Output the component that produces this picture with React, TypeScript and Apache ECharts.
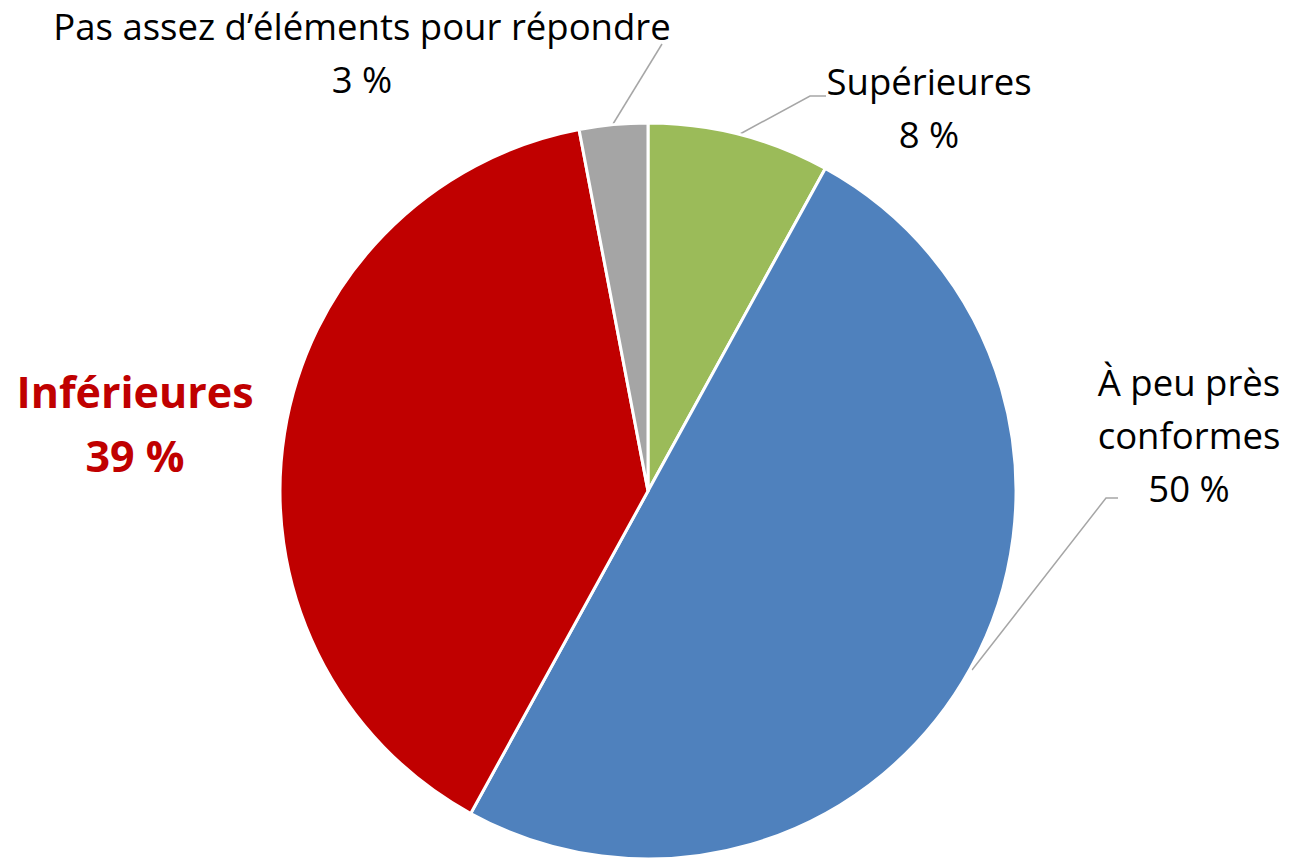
import React, { useEffect, useRef } from "react";
import * as echarts from "echarts";

const categories = ["Supérieures", "À peu près\nconformes", "Inférieures", "Pas assez d’éléments pour répondre"];
const values = [8, 50, 39, 3];
const colors = ["#9BBB59", "#4F81BD", "#C00000", "#A5A5A5"];

const FONT = "'Open Sans', 'Noto Sans', sans-serif";

export default function App() {
  const ref = useRef<HTMLDivElement>(null);
  useEffect(() => {
    const chart = echarts.init(ref.current!, null, { renderer: "svg" });
    const layouts: any[] = [
      { x: 929, y: 54, align: "center", verticalAlign: "top", labelLinePoints: [[740, 134], [810, 96], [826, 96]] },
      { x: 1189, y: 355, align: "center", verticalAlign: "top", labelLinePoints: [[972, 670], [1106, 498], [1118, 498]] },
      { x: 135, y: 359, align: "center", verticalAlign: "top" },
      { x: 362, y: -1, align: "center", verticalAlign: "top", labelLinePoints: [[613, 124], [662, 44], [662, 44]] },
    ];
    chart.setOption({
      animation: false,
      series: [
        {
          type: "pie",
          center: [648, 491],
          radius: 368,
          startAngle: 90,
          clockwise: true,
          avoidLabelOverlap: false,
          itemStyle: { borderColor: "#ffffff", borderWidth: 3 },
          label: {
            show: true,
            formatter: "{b}\n{c} %",
            fontFamily: FONT,
            fontSize: 36.5,
            lineHeight: 53,
            color: "#000000",
            align: "center",
          },
          labelLine: { show: true, lineStyle: { color: "#A6A6A6", width: 1.5 } },
          labelLayout: (p: any) => layouts[p.dataIndex],
          data: categories.map((c, i) => ({
            name: c,
            value: values[i],
            itemStyle: { color: colors[i] },
            ...(i === 2
              ? {
                  label: { fontWeight: "bold", color: "#C00000", fontSize: 43, lineHeight: 64 },
                  labelLine: { show: false },
                }
              : {}),
          })),
        },
      ],
    });
    return () => chart.dispose();
  }, []);
  return <div ref={ref} style={{ position: "absolute", left: 0, top: 0, width: 1289, height: 859 }} />;
}
